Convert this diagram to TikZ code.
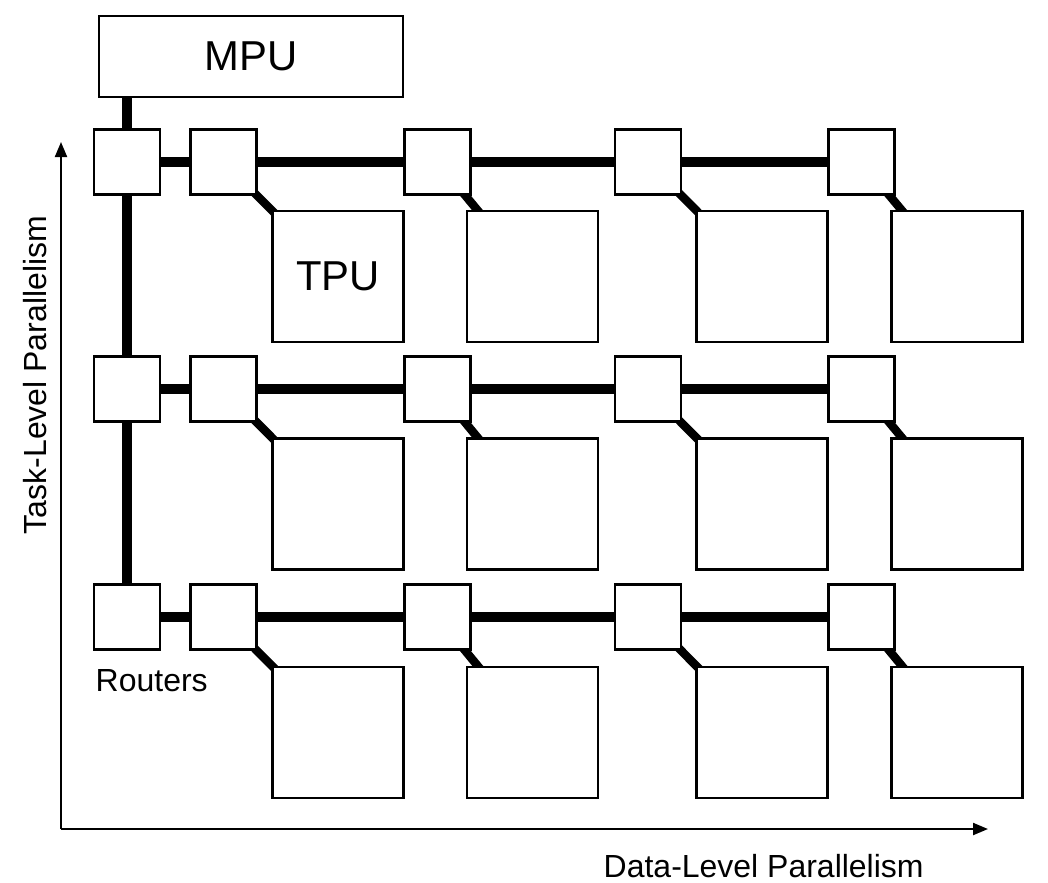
\documentclass[tikz,border=0pt]{standalone}
\usepackage{fontspec}
\setmainfont{Liberation Sans}
\usetikzlibrary{arrows.meta,backgrounds}

\tikzset{
  router/.style={draw, line width=0.6pt, fill=white, minimum width=0.66cm, minimum height=0.65cm, inner sep=0pt},
  tpu/.style={draw, line width=0.6pt, fill=white, minimum size=1.31cm, inner sep=0pt, font=\fontsize{11.9}{14}\selectfont},
  bus/.style={line width=3pt},
  tap/.style={line width=2.4pt},
  lbl/.style={font=\fontsize{9.1}{11}\selectfont, inner sep=0pt},
}

\begin{document}
\begin{tikzpicture}[x=1cm,y=1cm]
\useasboundingbox (0,0) rectangle (10.48,8.82);

\node[draw, line width=0.6pt, fill=white, minimum width=3.04cm, minimum height=0.81cm, inner sep=0pt, font=\fontsize{11.9}{14}\selectfont] (mpu) at (2.51,8.255) {MPU};

\node[router] (r10) at (1.27,7.20) {};
\node[router] (r11) at (2.235,7.20) {};
\node[router] (r12) at (4.375,7.20) {};
\node[router] (r13) at (6.48,7.20) {};
\node[router] (r14) at (8.615,7.20) {};

\node[router] (r20) at (1.27,4.93) {};
\node[router] (r21) at (2.235,4.93) {};
\node[router] (r22) at (4.375,4.93) {};
\node[router] (r23) at (6.48,4.93) {};
\node[router] (r24) at (8.615,4.93) {};

\node[router] (r30) at (1.27,2.65) {};
\node[router] (r31) at (2.235,2.65) {};
\node[router] (r32) at (4.375,2.65) {};
\node[router] (r33) at (6.48,2.65) {};
\node[router] (r34) at (8.615,2.65) {};

\node[tpu] (t11) at (3.38,6.055) {TPU};
\node[tpu] (t12) at (5.325,6.055) {};
\node[tpu] (t13) at (7.62,6.055) {};
\node[tpu] (t14) at (9.57,6.055) {};

\node[tpu] (t21) at (3.38,3.78) {};
\node[tpu] (t22) at (5.325,3.78) {};
\node[tpu] (t23) at (7.62,3.78) {};
\node[tpu] (t24) at (9.57,3.78) {};

\node[tpu] (t31) at (3.38,1.495) {};
\node[tpu] (t32) at (5.325,1.495) {};
\node[tpu] (t33) at (7.62,1.495) {};
\node[tpu] (t34) at (9.57,1.495) {};

\begin{scope}[on background layer]
\draw[bus] (r10.center) -- (r10.center |- mpu.center);
\draw[bus] (r10.center) -- (r20.center);
\draw[bus] (r20.center) -- (r30.center);

\draw[bus] (r10.center) -- (r11.center);
\draw[bus] (r11.center) -- (r12.center);
\draw[bus] (r12.center) -- (r13.center);
\draw[bus] (r13.center) -- (r14.center);
\draw[bus] (r20.center) -- (r21.center);
\draw[bus] (r21.center) -- (r22.center);
\draw[bus] (r22.center) -- (r23.center);
\draw[bus] (r23.center) -- (r24.center);
\draw[bus] (r30.center) -- (r31.center);
\draw[bus] (r31.center) -- (r32.center);
\draw[bus] (r32.center) -- (r33.center);
\draw[bus] (r33.center) -- (r34.center);

\draw[tap] (r11.center) -- (t11.center);
\draw[tap] (r12.center) -- (t12.center);
\draw[tap] (r13.center) -- (t13.center);
\draw[tap] (r14.center) -- (t14.center);
\draw[tap] (r21.center) -- (t21.center);
\draw[tap] (r22.center) -- (t22.center);
\draw[tap] (r23.center) -- (t23.center);
\draw[tap] (r24.center) -- (t24.center);
\draw[tap] (r31.center) -- (t31.center);
\draw[tap] (r32.center) -- (t32.center);
\draw[tap] (r33.center) -- (t33.center);
\draw[tap] (r34.center) -- (t34.center);
\end{scope}

\coordinate (origin) at (0.61,0.53);
\coordinate (ytop) at (0.61,7.40);
\coordinate (xend) at (9.88,0.53);
\draw[line width=0.6pt, -{Triangle[length=1.5mm,width=1.2mm]}] (origin) -- (ytop);
\draw[line width=0.6pt, -{Triangle[length=1.5mm,width=1.2mm]}] (origin) -- (xend);

\node[lbl, anchor=base west] (routers) at (0.95,1.91) {Routers};
\node[lbl, anchor=base west] (xlabel) at (6.03,0.05) {Data-Level Parallelism};
\node[lbl, anchor=base, rotate=90] (ylabel) at (0.46,5.07) {Task-Level Parallelism};
\end{tikzpicture}
\end{document}
